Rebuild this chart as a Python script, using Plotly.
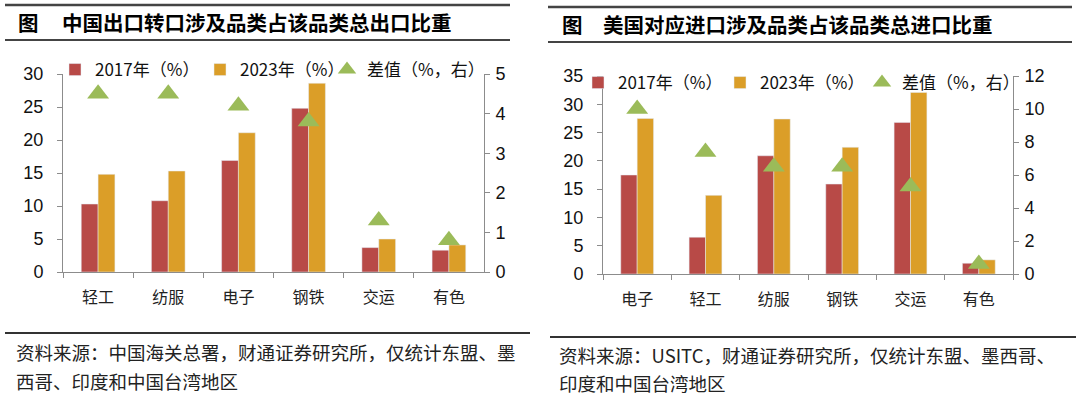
import plotly.graph_objects as go

W, H = 1080, 397

# ---- data ----
cats_left = ["轻工", "纺服", "电子", "钢铁", "交运", "有色"]
cn_2017 = [10.3, 10.8, 16.9, 24.8, 3.7, 3.3]
cn_2023 = [14.8, 15.3, 21.1, 28.6, 5.0, 4.1]
cn_diff = [4.5, 4.5, 4.2, 3.8, 1.3, 0.8]

cats_right = ["电子", "轻工", "纺服", "钢铁", "交运", "有色"]
us_2017 = [17.5, 6.5, 20.9, 15.9, 26.8, 1.9]
us_2023 = [27.5, 13.9, 27.4, 22.4, 32.1, 2.5]
us_diff = [10.0, 7.4, 6.5, 6.5, 5.3, 0.6]

title_left = "中国出口转口涉及品类占该品类总出口比重"
title_right = "美国对应进口涉及品类占该品类总进口比重"
src_left = ["资料来源：中国海关总署，财通证券研究所，仅统计东盟、墨", "西哥、印度和中国台湾地区"]
src_right = ["资料来源：USITC，财通证券研究所，仅统计东盟、墨西哥、", "印度和中国台湾地区"]
names = ["2017年（%）", "2023年（%）", "差值（%，右）"]

RED = "#B84A47"
ORANGE = "#DB9E28"
GREEN = "#9BBB59"
AX = "#8C8C8C"
NUM_FONT = "Liberation Sans, Arial, sans-serif"
CJK_FONT = "Noto Sans CJK SC, sans-serif"


def px(x):
    return x / W


def py(y):
    return 1 - y / H


fig = go.Figure()

# left chart
fig.add_trace(go.Bar(x=cats_left, y=cn_2017, name=names[0], marker_color=RED,
                     xaxis="x", yaxis="y", legend="legend"))
fig.add_trace(go.Bar(x=cats_left, y=cn_2023, name=names[1], marker_color=ORANGE,
                     xaxis="x", yaxis="y", legend="legend2"))
fig.add_trace(go.Scatter(x=cats_left, y=cn_diff, name=names[2], mode="markers",
                         marker=dict(symbol="triangle-up", size=19, color=GREEN),
                         xaxis="x", yaxis="y2", legend="legend3"))
# right chart
fig.add_trace(go.Bar(x=cats_right, y=us_2017, name=names[0], marker_color=RED,
                     xaxis="x2", yaxis="y3", legend="legend4"))
fig.add_trace(go.Bar(x=cats_right, y=us_2023, name=names[1], marker_color=ORANGE,
                     xaxis="x2", yaxis="y3", legend="legend5"))
fig.add_trace(go.Scatter(x=cats_right, y=us_diff, name=names[2], mode="markers",
                         marker=dict(symbol="triangle-up", size=19, color=GREEN),
                         xaxis="x2", yaxis="y4", legend="legend6"))

xcommon = dict(type="category", showline=True, linecolor=AX, linewidth=1,
               ticks="outside", tickson="boundaries", ticklen=5, tickcolor=AX,
               showgrid=False, tickfont=dict(family=CJK_FONT, size=16, color="#222"),
               ticklabelstandoff=11, zeroline=False)
ycommon = dict(showline=True, linecolor=AX, linewidth=1, ticks="outside",
               ticklen=5, tickcolor=AX, showgrid=False, zeroline=False,
               tickfont=dict(family=NUM_FONT, size=18, color="#111"))


def leg(x, y):
    return dict(orientation="h", x=px(x), y=py(y), xanchor="left", yanchor="middle",
                bgcolor="rgba(0,0,0,0)", borderwidth=0,
                font=dict(family=CJK_FONT, size=17, color="#111"), itemwidth=30)


fig.update_layout(
    width=W, height=H,
    margin=dict(l=0, r=0, t=0, b=0, autoexpand=False),
    paper_bgcolor="white", plot_bgcolor="white",
    barmode="group", bargap=0.52, bargroupgap=0,
    xaxis=dict(domain=[px(63), px(484)], anchor="y", **xcommon),
    yaxis=dict(domain=[py(272), py(74)], anchor="x", range=[0, 30], dtick=5,
               ticklabelstandoff=10, **ycommon),
    yaxis2=dict(overlaying="y", side="right", anchor="x", range=[0, 5], dtick=1,
                ticklabelstandoff=2, **ycommon),
    xaxis2=dict(domain=[px(603), px(1013)], anchor="y3", **xcommon),
    yaxis3=dict(domain=[py(274), py(76)], anchor="x2", range=[0, 35], dtick=5,
                ticklabelstandoff=10, **ycommon),
    yaxis4=dict(overlaying="y3", side="right", anchor="x2", range=[0, 12], dtick=2,
                ticklabelstandoff=2, **ycommon),
    legend=leg(55, 70),
    legend2=leg(200, 70),
    legend3=leg(327, 70),
    legend4=leg(578, 83),
    legend5=leg(720, 83),
    legend6=leg(862, 83),
    showlegend=True,
)

shapes = []
# title rules
for (x0, x1, y0, y1) in [(5, 510, 5, 40), (548, 1072, 7, 42)]:
    shapes.append(dict(type="line", xref="paper", yref="paper", x0=px(x0), x1=px(x1),
                       y0=py(y0), y1=py(y0), line=dict(color="#444", width=2.5)))
    shapes.append(dict(type="line", xref="paper", yref="paper", x0=px(x0), x1=px(x1),
                       y0=py(y1), y1=py(y1), line=dict(color="#444", width=2)))
# source rules
shapes.append(dict(type="line", xref="paper", yref="paper", x0=px(5), x1=px(530),
                   y0=py(333), y1=py(333), line=dict(color="#333", width=2)))
shapes.append(dict(type="line", xref="paper", yref="paper", x0=px(550), x1=px(1076),
                   y0=py(337), y1=py(337), line=dict(color="#333", width=2)))
fig.update_layout(shapes=shapes)

ann = []
tfont = dict(family=CJK_FONT, size=20.5, color="#000")
ann.append(dict(text="<b>图</b>", x=px(16), y=py(22), xref="paper", yref="paper",
                xanchor="left", yanchor="middle", showarrow=False, font=tfont))
ann.append(dict(text="<b>" + title_left + "</b>", x=px(60), y=py(22), xref="paper",
                yref="paper", xanchor="left", yanchor="middle", showarrow=False, font=tfont))
ann.append(dict(text="<b>图</b>", x=px(560), y=py(24), xref="paper", yref="paper",
                xanchor="left", yanchor="middle", showarrow=False, font=tfont))
ann.append(dict(text="<b>" + title_right + "</b>", x=px(601), y=py(24), xref="paper",
                yref="paper", xanchor="left", yanchor="middle", showarrow=False, font=tfont))
sfont = dict(family=CJK_FONT, size=18.5, color="#222")
for i, line in enumerate(src_left):
    ann.append(dict(text=line, x=px(14), y=py(352 + 29 * i), xref="paper", yref="paper",
                    xanchor="left", yanchor="middle", showarrow=False, font=sfont))
for i, line in enumerate(src_right):
    ann.append(dict(text=line, x=px(557), y=py(355 + 28 * i), xref="paper", yref="paper",
                    xanchor="left", yanchor="middle", showarrow=False, font=sfont))
fig.update_layout(annotations=ann)

fig.write_html("out.html", config={"displayModeBar": False, "displaylogo": False},
               post_script="document.body.style.margin='0';")
